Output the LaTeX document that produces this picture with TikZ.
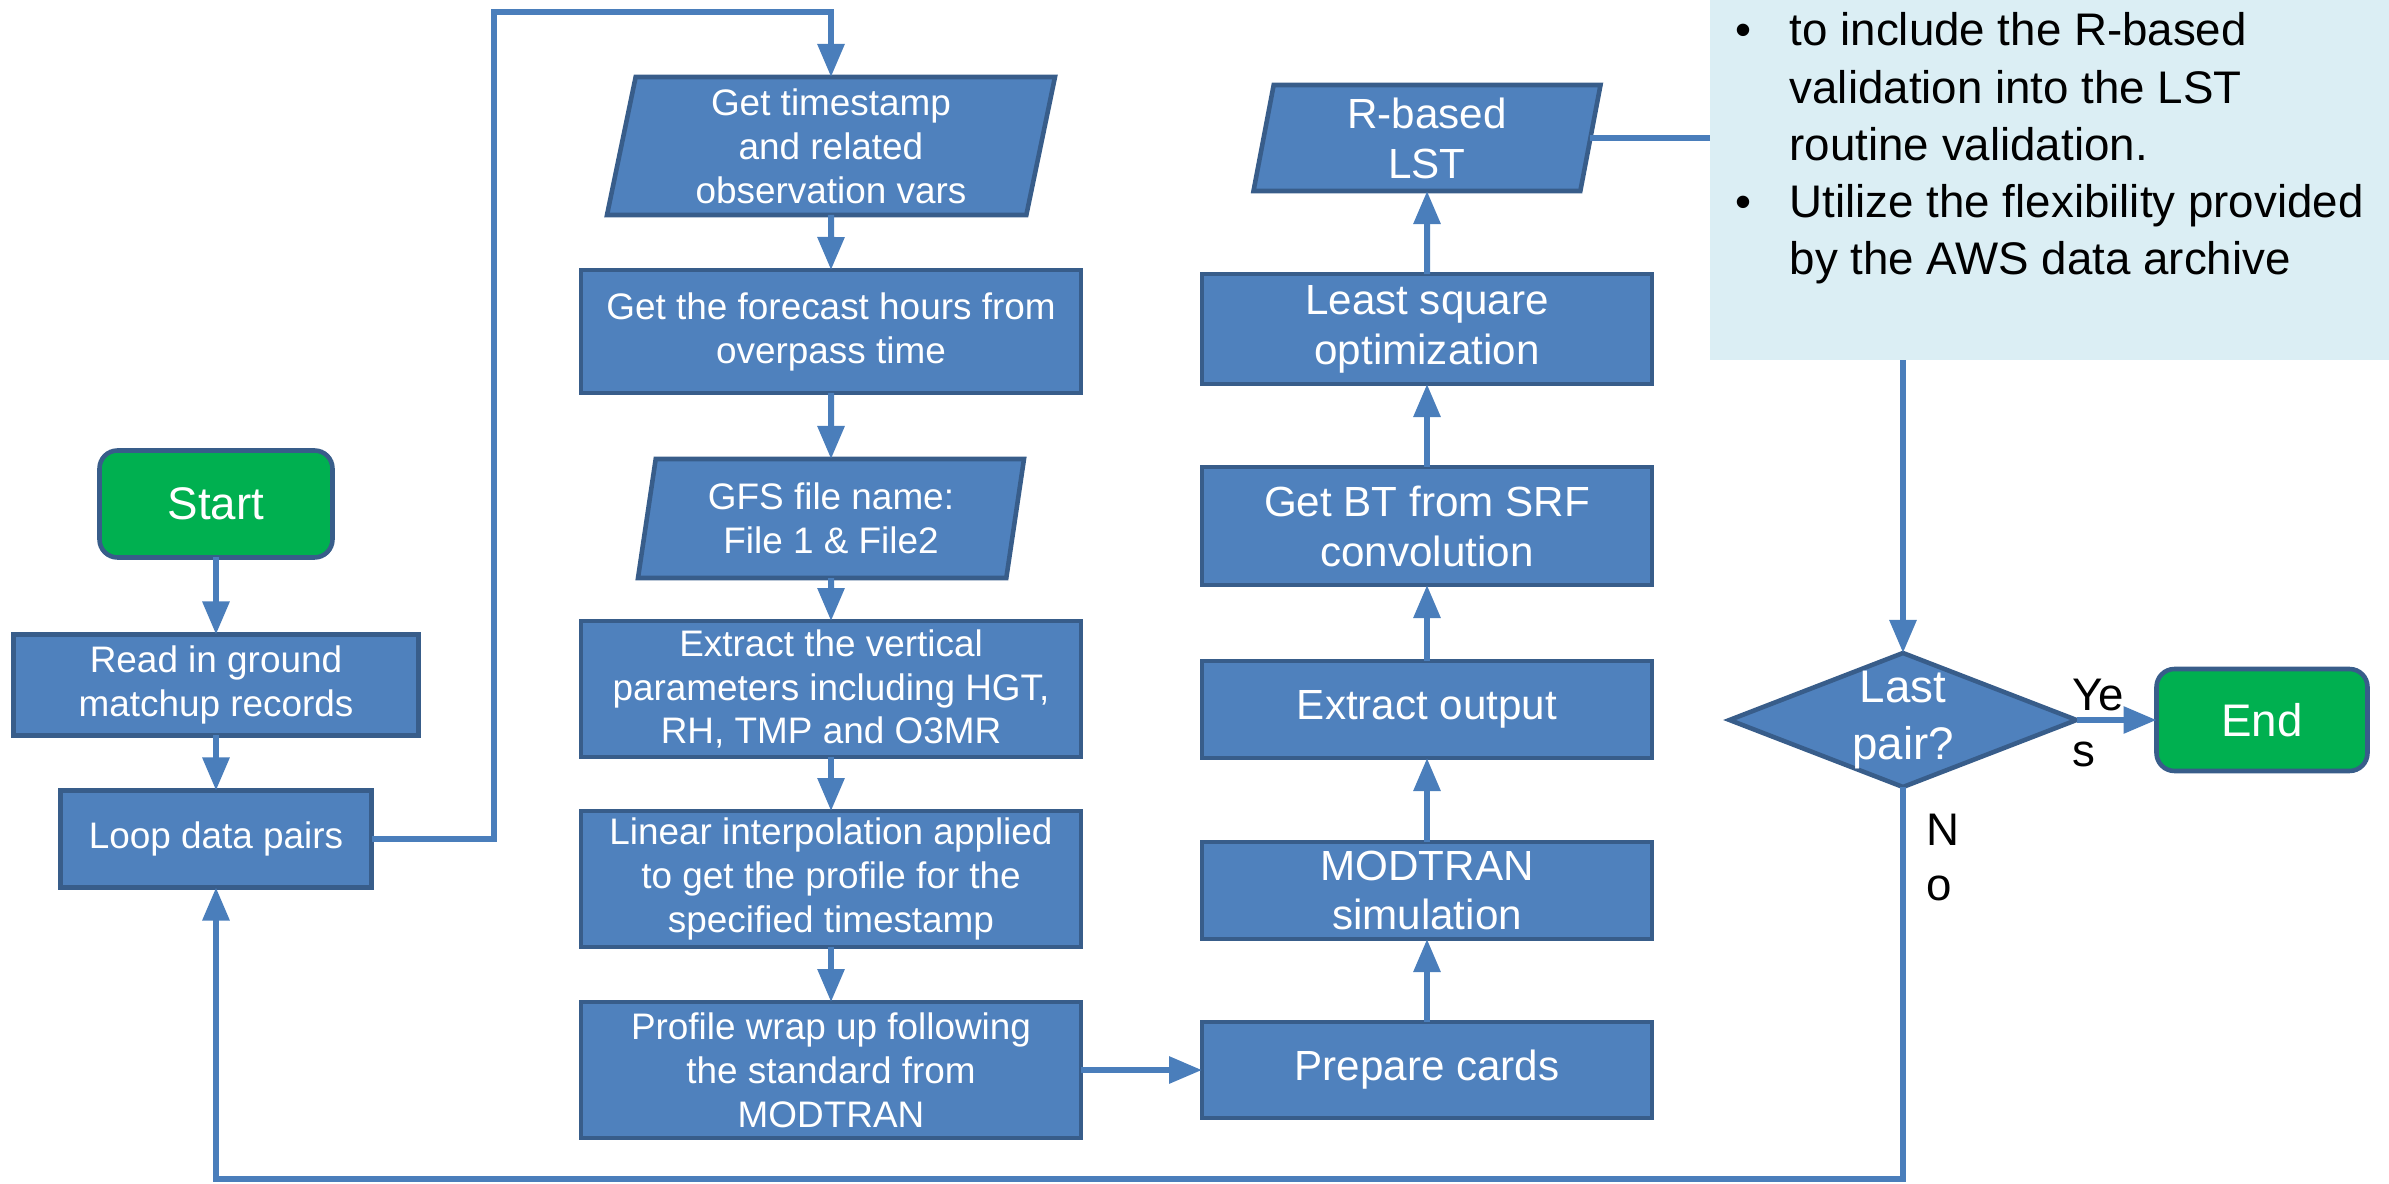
\documentclass[tikz,border=0pt]{standalone}
\usepackage{fontspec}
\setmainfont{Liberation Sans}
\usetikzlibrary{arrows.meta,positioning,shapes.geometric}
\definecolor{BoxBlue}{RGB}{79,129,189}
\definecolor{BoxEdge}{RGB}{56,93,138}
\definecolor{LineBlue}{RGB}{74,126,187}
\definecolor{StartGreen}{RGB}{0,176,80}
\definecolor{NoteBlue}{RGB}{219,238,244}
\tikzset{
  termbox/.style={draw=BoxEdge, line width=1.3pt, rounded corners=1.8mm, fill=StartGreen,
    text=white, align=center, minimum width=2.33cm, minimum height=1.07cm, inner sep=0pt,
    outer sep=0pt, font=\fontsize{13}{16}\selectfont},
  procbox/.style={draw=BoxEdge, line width=1.3pt, fill=BoxBlue, text=white, align=center,
    minimum width=#1, minimum height=1.36cm, inner sep=0pt, outer sep=0pt,
    font=\fontsize{10.5}{12.5}\selectfont},
  procbox/.default=5cm,
  simbox/.style={draw=BoxEdge, line width=1.3pt, fill=BoxBlue, text=white, align=center,
    minimum width=4.5cm, minimum height=0.97cm, inner sep=0pt, outer sep=0pt,
    font=\fontsize{12}{14.2}\selectfont},
  iobox/.style={trapezium, trapezium left angle=76, trapezium right angle=104,
    trapezium stretches body, draw=BoxEdge, line width=1.3pt, fill=BoxBlue, text=white,
    align=center, minimum width=#1, inner sep=0pt, outer sep=0pt,
    font=\fontsize{10.5}{12.5}\selectfont},
  iobox/.default=4.48cm,
  decision/.style={diamond, draw=BoxEdge, line width=1.3pt, fill=BoxBlue,
    minimum width=3.47cm, minimum height=1.34cm, inner sep=0pt, outer sep=0pt},
  dectext/.style={text=white, align=center, inner sep=0pt, font=\fontsize{13}{16.2}\selectfont},
  notebox/.style={fill=NoteBlue, draw=none, minimum width=6.79cm, minimum height=3.6cm,
    inner sep=0pt, outer sep=0pt},
  notetext/.style={inner sep=0pt, font=\fontsize{13}{16.3}\selectfont},
  lbl/.style={inner sep=0pt, align=left, text=black, font=\fontsize{13}{15.9}\selectfont},
  flowarr/.style={-{Triangle[length=3.3mm, width=2.6mm]}, line width=1.7pt, LineBlue},
}
\begin{document}
\begin{tikzpicture}
  \useasboundingbox (0,0) rectangle (23.89,-11.84);
  \coordinate (toprail) at (4.94,-0.12);
  \coordinate (bottomrail) at (0,-11.79);
  % ---- left column ----
  \node[termbox] (start) at (2.16,-5.04) {Start};
  \node[procbox=4.05cm, minimum height=1.01cm, below=0.77cm of start] (read) {Read in ground\\matchup records};
  \node[procbox=3.11cm, minimum height=0.97cm, below=0.55cm of read] (loop) {Loop data pairs};
  % ---- GFS profile column ----
  \node[iobox, minimum height=1.38cm] (stamp) at (8.31,-1.46) {Get timestamp\\and related\\observation vars};
  \node[procbox, minimum height=1.23cm, below=0.55cm of stamp] (hours) {Get the forecast hours from\\overpass time};
  \node[iobox=3.86cm, minimum height=1.19cm, below=0.66cm of hours] (gfs) {GFS file name:\\File 1 \& File2};
  \node[procbox, below=0.43cm of gfs] (vert) {Extract the vertical\\parameters including HGT,\\RH, TMP and O3MR};
  \node[procbox, below=0.54cm of vert] (interp) {Linear interpolation applied\\to get the profile for the\\specified timestamp};
  \node[procbox, below=0.55cm of interp] (wrap) {Profile wrap up following\\the standard from\\MODTRAN};
  % ---- MODTRAN column ----
  \node[simbox, minimum height=0.96cm, right=1.21cm of wrap] (cards) {Prepare cards};
  \node[simbox, above=0.83cm of cards] (modtran) {MODTRAN\\simulation};
  \node[simbox, above=0.84cm of modtran] (output) {Extract output};
  \node[simbox, minimum height=1.18cm, above=0.76cm of output] (bt) {Get BT from SRF\\convolution};
  \node[simbox, minimum height=1.1cm, above=0.83cm of bt] (lsq) {Least square\\optimization};
  \node[iobox=3.47cm, minimum height=1.06cm, font=\fontsize{12}{14.2}\selectfont, above=0.83cm of lsq] (rlst) {R-based\\LST};
  % ---- decision ----
  \node[decision] (dec) at (19.03,-7.2) {};
  \node[dectext] (dectext) at (dec.center) {Last\\pair?};
  \node[termbox, minimum width=2.11cm, minimum height=1.02cm, right=0.8cm of dec] (end) {End};
  % ---- connectors ----
  \draw[flowarr] (start) -- (read);
  \draw[flowarr] (read) -- (loop);
  \draw[flowarr] (loop.east) -| (toprail) -| (stamp.north);
  \draw[flowarr] (stamp) -- (hours);
  \draw[flowarr] (hours) -- (gfs);
  \draw[flowarr] (gfs) -- (vert);
  \draw[flowarr] (vert) -- (interp);
  \draw[flowarr] (interp) -- (wrap);
  \draw[flowarr] (wrap) -- (cards);
  \draw[flowarr] (cards) -- (modtran);
  \draw[flowarr] (modtran) -- (output);
  \draw[flowarr] (output) -- (bt);
  \draw[flowarr] (bt) -- (lsq);
  \draw[flowarr] (lsq) -- (rlst);
  \draw[flowarr] (rlst.east) -| (dec.north);
  % ---- note (covers the connector) ----
  \node[notebox] (note) at (20.495,-1.8) {};
  \node[notetext, anchor=north west] (notetext) at (17.35,-0.05) {%
    \begin{tabular}{@{}p{0.54cm}@{}l@{}}
      \textbullet & to include the R-based\\
                  & validation into the LST\\
                  & routine validation.\\
      \textbullet & Utilize the flexibility provided\\
                  & by the AWS data archive
    \end{tabular}};
  \draw[flowarr] (dec.east) -- node[lbl, anchor=west, pos=0, xshift=-0.7mm, yshift=-0.3mm] {Ye\\s} (end.west);
  \draw[flowarr] (dec.south) -- node[lbl, pos=0.18, right=2mm] {N\\o} (dec.south |- bottomrail) -| (loop.south);
\end{tikzpicture}
\end{document}
